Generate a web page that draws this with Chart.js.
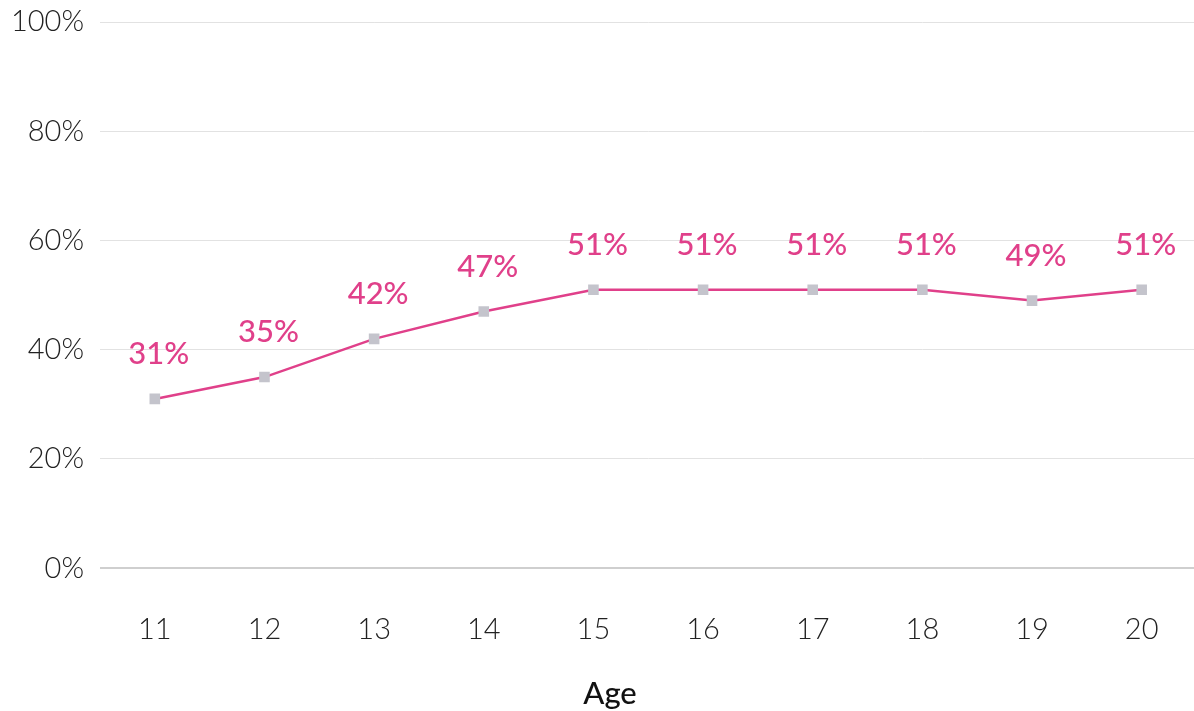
<!DOCTYPE html>
<html>
<head>
<meta charset="utf-8">
<script src="https://cdn.jsdelivr.net/npm/chart.js@4/dist/chart.umd.min.js"></script>
<style>
  html, body { margin: 0; padding: 0; background: #fff; overflow: hidden; }
  canvas { display: block; }
</style>
</head>
<body>
<canvas id="ageChart" width="1204" height="711"></canvas>
<script>
// ages along the x axis and the share at each age (percent)
const ages = ['11', '12', '13', '14', '15', '16', '17', '18', '19', '20'];
const shares = [31, 35, 42, 47, 51, 51, 51, 51, 49, 51];
const yTicks = [0, 20, 40, 60, 80, 100];
const axisTitle = 'Age';

const pink = '#e0408a';
const fontFamily = 'Lato, "Open Sans", sans-serif';

// writes the value above each point, plus the axis title under the ticks
const valueLabels = {
  id: 'valueLabels',
  afterDatasetsDraw(chart) {
    const ctx = chart.ctx;
    const meta = chart.getDatasetMeta(0);
    ctx.save();
    ctx.fillStyle = pink;
    ctx.font = '500 31px ' + fontFamily;
    ctx.textAlign = 'center';
    ctx.textBaseline = 'middle';
    meta.data.forEach((pt, i) => {
      ctx.fillText(shares[i] + '%', pt.x + 4, pt.y - 45);
    });
    ctx.fillStyle = '#111';
    ctx.font = '500 31px ' + fontFamily;
    ctx.fillText(axisTitle, 610, chart.chartArea.bottom + 126);
    ctx.restore();
  }
};

const ctx = document.getElementById('ageChart').getContext('2d');
new Chart(ctx, {
  type: 'line',
  data: {
    labels: ages,
    datasets: [{
      data: shares,
      borderColor: pink,
      borderWidth: 2.5,
      tension: 0,
      pointStyle: 'rect',
      pointRadius: 7.5,
      pointBackgroundColor: '#c4c4cc',
      pointBorderWidth: 0,
      fill: false
    }]
  },
  options: {
    responsive: false,
    animation: false,
    layout: { padding: { top: 0, left: 0, right: 0, bottom: 20 } },
    plugins: {
      legend: { display: false },
      tooltip: { enabled: false }
    },
    scales: {
      x: {
        offset: true,
        grid: { display: false, drawTicks: false },
        border: { display: false },
        ticks: {
          color: '#222',
          padding: 44,
          font: { family: fontFamily, size: 29, weight: 300 }
        }
      },
      y: {
        min: 0,
        max: 100,
        afterBuildTicks(axis) {
          axis.ticks = yTicks.map(v => ({ value: v }));
        },
        afterFit(axis) {
          axis.width = 100;
        },
        grid: {
          color: (c) => c.tick && c.tick.value === 0 ? '#cfcfcf' : '#e2e2e2',
          lineWidth: (c) => c.tick && c.tick.value === 0 ? 2 : 1,
          drawTicks: false
        },
        border: { display: false },
        ticks: {
          color: '#222',
          padding: 16,
          callback: (v) => v + '%',
          font: { family: fontFamily, size: 29, weight: 300, lineHeight: 0.42 }
        }
      }
    }
  },
  plugins: [valueLabels]
});
</script>
</body>
</html>
